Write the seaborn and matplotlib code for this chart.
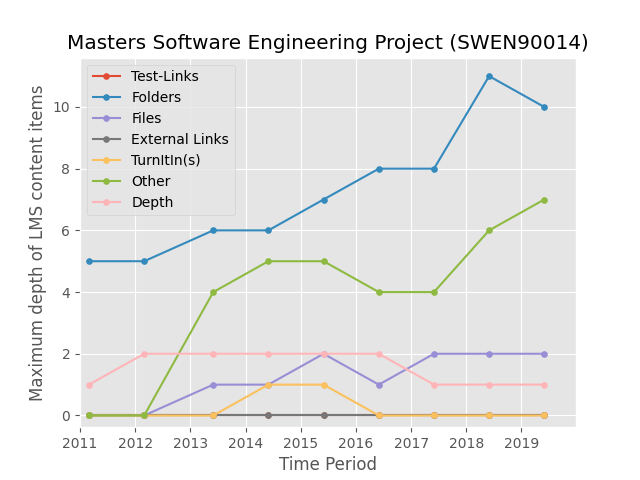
import numpy as np
import pandas as pd
import matplotlib
matplotlib.use("Agg")
import matplotlib.pyplot as plt
import matplotlib.dates as mdates
import seaborn as sns

plt.style.use('ggplot')

# time periods (one snapshot per year)
periods = pd.to_datetime(['2011-03-01', '2012-03-01', '2013-06-01', '2014-06-01',
                          '2015-06-01', '2016-06-01', '2017-06-01', '2018-06-01',
                          '2019-06-01'])

test_links = [0, 0, 0, 0, 0, 0, 0, 0, 0]
folders = [5, 5, 6, 6, 7, 8, 8, 11, 10]
files = [0, 0, 1, 1, 2, 1, 2, 2, 2]
external_links = [0, 0, 0, 0, 0, 0, 0, 0, 0]
turnitin = [0, 0, 0, 1, 1, 0, 0, 0, 0]
other = [0, 0, 4, 5, 5, 4, 4, 6, 7]
depth = [1, 2, 2, 2, 2, 2, 1, 1, 1]

series_names = ['Test-Links', 'Folders', 'Files', 'External Links',
                'TurnItIn(s)', 'Other', 'Depth']
series_values = [test_links, folders, files, external_links, turnitin, other, depth]

colors = ['#E24A33', '#348ABD', '#988ED5', '#777777', '#FBC15E', '#8EBA42', '#FFB5B8']

fig, ax = plt.subplots(figsize=(6.4, 4.8), dpi=100)

for name, vals, c in zip(series_names, series_values, colors):
    sns.lineplot(x=periods, y=vals, label=name, color=c, marker='o',
                 markersize=4, markeredgecolor=c, linewidth=1.5, ax=ax)

ax.xaxis.set_major_locator(mdates.YearLocator())
ax.xaxis.set_major_formatter(mdates.DateFormatter('%Y'))
ax.set_xlim(pd.Timestamp('2011-01-01'), pd.Timestamp('2019-12-28'))
ax.set_ylim(-0.38, 11.6)

ax.set_title('Masters Software Engineering Project (SWEN90014)')
ax.set_xlabel('Time Period')
ax.set_ylabel('Maximum depth of LMS content items')
ax.legend(loc='upper left')

fig.savefig('out.png', dpi=100)
